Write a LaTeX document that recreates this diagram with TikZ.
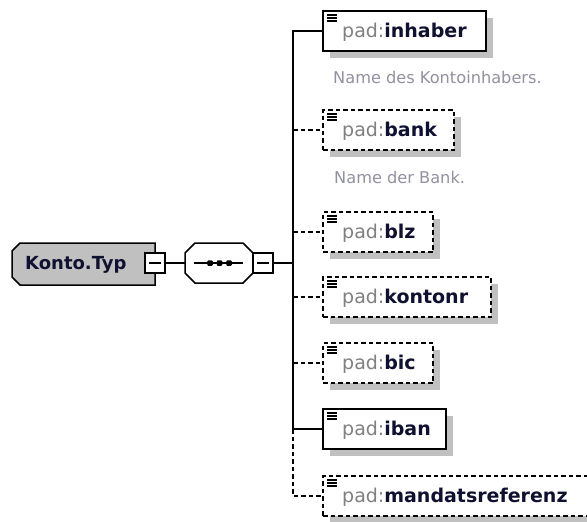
\documentclass[tikz,border=0pt]{standalone}
\usepackage{fontspec}
\setmainfont{DejaVu Sans}
\usetikzlibrary{shadows}
\definecolor{shgray}{RGB}{192,192,192}
\definecolor{pfx}{RGB}{128,128,128}
\definecolor{nm}{RGB}{16,16,48}
\definecolor{dsc}{RGB}{145,145,160}
\tikzset{
  elbox/.style={draw=black, line width=1.5pt, fill=white, rectangle, inner sep=0pt, outer sep=0pt,
    anchor=north west, minimum height=40pt,
    drop shadow={shadow xshift=7pt, shadow yshift=-7pt, opacity=1, fill=shgray}},
  optbox/.style={elbox, dash pattern=on 4.5pt off 3pt},
  lbl/.style={anchor=base west, inner sep=0pt, text=nm, font=\fontsize{19}{22}\selectfont},
  dsctext/.style={anchor=base west, inner sep=0pt, text=dsc, font=\fontsize{16.2}{19}\selectfont},
  icon/.style={line width=1.3pt, black},
  conn/.style={line width=1.5pt, black},
  dconn/.style={conn, dash pattern=on 4.5pt off 3pt},
  minusbox/.style={draw=black, line width=1.5pt, fill=white, rectangle, inner sep=0pt, outer sep=0pt,
    minimum width=20pt, minimum height=20pt},
  frame/.style={rectangle, inner sep=0pt, outer sep=0pt},
  outline/.style={draw=black, line width=1.5pt, line join=miter},
  dot/.style={fill=black, rectangle, inner sep=0pt, minimum size=5.5pt, rounded corners=1pt}
}
\newcommand{\elname}[1]{\textcolor{pfx}{pad:}\textbf{#1}}
\begin{document}
\begin{tikzpicture}[x=1pt,y=-1pt]
\useasboundingbox (0,0) rectangle (587,522);
\clip (0,0) rectangle (587,522);

% root type box (chamfered on the left)
\node[frame, minimum width=143pt, minimum height=42pt] (konto) at (83.5,264) {};
\fill[shgray, shift={(8,8)}] ([xshift=8pt]konto.north west) -- (konto.north east) -- (konto.south east)
  -- ([xshift=8pt]konto.south west) -- ([yshift=8pt]konto.south west) -- ([yshift=-8pt]konto.north west) -- cycle;
\path[outline, fill=shgray] ([xshift=8pt]konto.north west) -- (konto.north east) -- (konto.south east)
  -- ([xshift=8pt]konto.south west) -- ([yshift=8pt]konto.south west) -- ([yshift=-8pt]konto.north west) -- cycle;
\node[anchor=base west, inner sep=0pt, text=nm, font=\fontsize{18}{21}\selectfont\bfseries]
  (kontotxt) at (25,269) {Konto.Typ};
\node[minusbox] (km) at (155,263) {};
\draw[line width=1.3pt] ([xshift=-6pt]km.center) -- ([xshift=6pt]km.center);

% sequence compositor (chamfered on all corners)
\node[frame, minimum width=68pt, minimum height=40pt] (seq) at (219,263) {};
\fill[shgray, shift={(8,8)}] ([xshift=10pt]seq.north west) -- ([xshift=-10pt]seq.north east)
  -- ([yshift=-10pt]seq.north east) -- ([yshift=10pt]seq.south east) -- ([xshift=-10pt]seq.south east)
  -- ([xshift=10pt]seq.south west) -- ([yshift=10pt]seq.south west) -- ([yshift=-10pt]seq.north west) -- cycle;
\path[outline, fill=white] ([xshift=10pt]seq.north west) -- ([xshift=-10pt]seq.north east)
  -- ([yshift=-10pt]seq.north east) -- ([yshift=10pt]seq.south east) -- ([xshift=-10pt]seq.south east)
  -- ([xshift=10pt]seq.south west) -- ([yshift=10pt]seq.south west) -- ([yshift=-10pt]seq.north west) -- cycle;
\coordinate (sl) at (194,263);
\coordinate (sr) at (243,263);
\draw[line width=1.3pt] (sl) -- (sr);
\node[dot] (d1) at (210,263) {};
\node[dot] (d2) at (219.5,263) {};
\node[dot] (d3) at (229,263) {};
\node[minusbox] (sm) at (263,263) {};
\draw[line width=1.3pt] ([xshift=-6pt]sm.center) -- ([xshift=6pt]sm.center);

\draw[conn] (km.east) -- (seq.west);

% elements
\node[elbox, minimum width=163pt] (inhaber) at (323,11) {};
\node[optbox, minimum width=131pt] (bank) at (323,110) {};
\node[optbox, minimum width=110pt] (blz) at (323,212) {};
\node[optbox, minimum width=168pt] (kontonr) at (323,277) {};
\node[optbox, minimum width=110pt] (bic) at (323,343) {};
\node[elbox, minimum width=123pt] (iban) at (323,409) {};
\node[optbox, minimum width=285pt] (mand) at (323,476) {};

\foreach \b in {inhaber,bank,blz,kontonr,bic,iban,mand}{
  \draw[icon] ([shift={(4,4)}]\b.north west) -- ++(10,0);
  \draw[icon] ([shift={(4,7)}]\b.north west) -- ++(10,0);
  \draw[icon] ([shift={(4,10)}]\b.north west) -- ++(10,0);
}

\node[lbl] (t1) at (342,37) {\elname{inhaber}};
\node[lbl] (t2) at (342,136) {\elname{bank}};
\node[lbl] (t3) at (342,238) {\elname{blz}};
\node[lbl] (t4) at (342,303) {\elname{kontonr}};
\node[lbl] (t5) at (342,369) {\elname{bic}};
\node[lbl] (t6) at (342,435) {\elname{iban}};
\node[lbl] (t7) at (342,502) {\elname{mandatsreferenz}};

\node[dsctext] (d1t) at (333,83) {Name des Kontoinhabers.};
\node[dsctext] (d2t) at (334,183) {Name der Bank.};

% connectors
\coordinate (j) at (293,263);
\draw[conn] (sm.east) -- (j);
\draw[conn] (j) |- (inhaber.west);
\draw[conn] (j) |- (iban.west);
\draw[dconn] (j |- bank.west) -- (bank.west);
\draw[dconn] (j |- blz.west) -- (blz.west);
\draw[dconn] (j |- kontonr.west) -- (kontonr.west);
\draw[dconn] (j |- bic.west) -- (bic.west);
\draw[dconn] (j |- iban.west) |- (mand.west);
\end{tikzpicture}
\end{document}
